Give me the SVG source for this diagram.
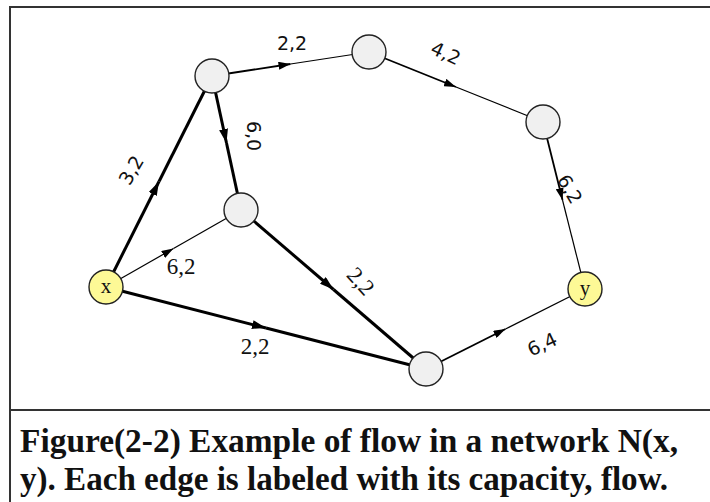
<svg xmlns="http://www.w3.org/2000/svg" width="710" height="502" viewBox="0 0 710 502">
  <style>
    .frame { fill: none; stroke: #333; stroke-width: 2; }
    .node circle { fill: #f0f0f0; stroke: #222; stroke-width: 1.4; }
    .node.term circle { fill: #fdf996; }
    .node text { font-family: "Liberation Serif", serif; font-size: 21px; text-anchor: middle; fill: #111; }
    .edge { fill: none; stroke: #000; }
    .thick { stroke-width: 3; }
    .lead { stroke-width: 1.8; }
    .tail { stroke-width: 1.2; }
    .lbl { font-family: "DejaVu Sans", sans-serif; font-size: 19px; text-anchor: middle; fill: #111; }
    .lbls { font-family: "Liberation Serif", serif; font-size: 23px; text-anchor: middle; fill: #111; }
    .caption { font-family: "Liberation Serif", serif; font-weight: bold; font-size: 34px; fill: #111; }
  </style>
  <defs>
    <marker id="arr" viewBox="0 0 12 8" refX="12" refY="4" markerWidth="12" markerHeight="8" markerUnits="userSpaceOnUse" orient="auto">
      <path d="M0,0 L12,4 L0,8 z" fill="#000"/>
    </marker>
    <marker id="arrB" viewBox="0 0 14 9" refX="14" refY="4.5" markerWidth="14" markerHeight="9" markerUnits="userSpaceOnUse" orient="auto">
      <path d="M0,0 L14,4.5 L0,9 z" fill="#000"/>
    </marker>
  </defs>

  <!-- outer frame and caption divider -->
  <rect class="frame" x="10" y="7" width="710" height="510"/>
  <line class="frame" x1="10" y1="410" x2="710" y2="410"/>

  <!-- connectors: each edge is split at its midpoint so the arrowhead sits mid-edge -->
  <g id="connectors">
    <!-- x -> A (3,2) -->
    <path class="edge thick" d="M106,287 L159,181.5" marker-end="url(#arrB)"/>
    <path class="edge thick" d="M159,181.5 L212,76"/>
    <!-- A -> D (6,0) -->
    <path class="edge thick" d="M212,76 L226.5,143" marker-end="url(#arrB)"/>
    <path class="edge thick" d="M226.5,143 L241,210"/>
    <!-- A -> B (2,2) -->
    <path class="edge lead" d="M212,76 L290.5,64" marker-end="url(#arr)"/>
    <path class="edge tail" d="M290.5,64 L369,52"/>
    <!-- B -> C (4,2) -->
    <path class="edge lead" d="M369,52 L456,87" marker-end="url(#arr)"/>
    <path class="edge tail" d="M456,87 L543,122"/>
    <!-- C -> y (6,2) -->
    <path class="edge lead" d="M543,122 L562.5,200" marker-end="url(#arr)"/>
    <path class="edge tail" d="M562.5,200 L585,289"/>
    <!-- x -> D (6,2) -->
    <path class="edge tail" d="M106,287 L173.5,248.5" marker-end="url(#arr)"/>
    <path class="edge tail" d="M173.5,248.5 L241,210"/>
    <!-- D -> E (2,2) -->
    <path class="edge thick" d="M241,210 L333.5,289.5" marker-end="url(#arrB)"/>
    <path class="edge thick" d="M333.5,289.5 L426,369"/>
    <!-- x -> E (2,2) -->
    <path class="edge thick" d="M106,287 L266,328" marker-end="url(#arrB)"/>
    <path class="edge thick" d="M266,328 L426,369"/>
    <!-- E -> y (6,4) -->
    <path class="edge lead" d="M426,369 L505.5,329" marker-end="url(#arr)"/>
    <path class="edge tail" d="M505.5,329 L585,289"/>
  </g>

  <!-- edge labels: capacity, flow -->
  <g id="edge-labels">
    <text class="lbl" x="292" y="50">2,2</text>
    <text class="lbl" transform="translate(446,53) rotate(25)" y="7">4,2</text>
    <text class="lbl" transform="translate(254,136) rotate(90)" y="7">6,0</text>
    <text class="lbl" transform="translate(131,170) rotate(-60)" y="7">3,2</text>
    <text class="lbl" transform="translate(542,344) rotate(-25)" y="7">6,4</text>
    <text class="lbl" transform="translate(570,189) rotate(60)" y="7">6,2</text>
    <text class="lbls" x="181" y="274">6,2</text>
    <text class="lbls" transform="translate(361,281) rotate(48)" y="8">2,2</text>
    <text class="lbls" x="255" y="354">2,2</text>
  </g>

  <!-- nodes -->
  <g id="node-x" class="node term"><circle cx="106" cy="287" r="17"/><text x="106" y="293">x</text></g>
  <g id="node-a" class="node"><circle cx="212" cy="76" r="17"/></g>
  <g id="node-b" class="node"><circle cx="369" cy="52" r="17"/></g>
  <g id="node-c" class="node"><circle cx="543" cy="122" r="17"/></g>
  <g id="node-d" class="node"><circle cx="241" cy="210" r="17"/></g>
  <g id="node-e" class="node"><circle cx="426" cy="369" r="17"/></g>
  <g id="node-y" class="node term"><circle cx="585" cy="289" r="17"/><text x="585" y="295">y</text></g>

  <!-- caption -->
  <text class="caption" x="20" y="452" textLength="658" lengthAdjust="spacingAndGlyphs">Figure(2-2) Example of flow in a network N(x,</text>
  <text class="caption" x="20" y="490" textLength="648" lengthAdjust="spacingAndGlyphs">y). Each edge is labeled with its capacity, flow.</text>
</svg>
